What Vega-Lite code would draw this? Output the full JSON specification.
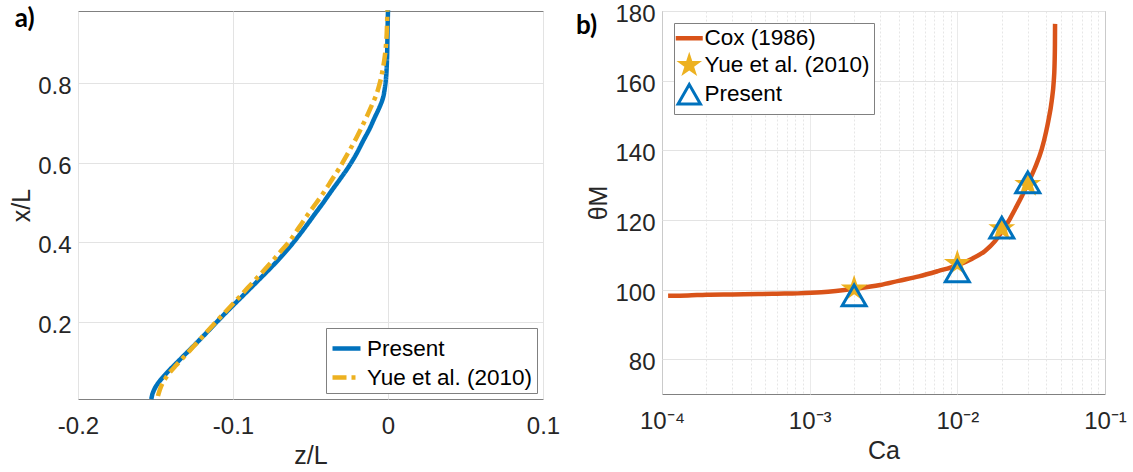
{
  "$schema": "https://vega.github.io/schema/vega-lite/v6.json",
  "background": "white",
  "padding": {"left": 9, "top": 0, "right": 0, "bottom": 0},
  "bounds": "flush",
  "spacing": 119,
  "datasets": {
    "profile": [
      {"series": "Present", "zL": -0.1527, "xL": 0.006},
      {"series": "Present", "zL": -0.1519, "xL": 0.020},
      {"series": "Present", "zL": -0.1502, "xL": 0.035},
      {"series": "Present", "zL": -0.1476, "xL": 0.050},
      {"series": "Present", "zL": -0.1444, "xL": 0.065},
      {"series": "Present", "zL": -0.1408, "xL": 0.080},
      {"series": "Present", "zL": -0.1362, "xL": 0.098},
      {"series": "Present", "zL": -0.1308, "xL": 0.119},
      {"series": "Present", "zL": -0.1244, "xL": 0.144},
      {"series": "Present", "zL": -0.1181, "xL": 0.169},
      {"series": "Present", "zL": -0.1105, "xL": 0.200},
      {"series": "Present", "zL": -0.1025, "xL": 0.232},
      {"series": "Present", "zL": -0.0960, "xL": 0.257},
      {"series": "Present", "zL": -0.0885, "xL": 0.286},
      {"series": "Present", "zL": -0.0808, "xL": 0.316},
      {"series": "Present", "zL": -0.0735, "xL": 0.345},
      {"series": "Present", "zL": -0.0665, "xL": 0.375},
      {"series": "Present", "zL": -0.0602, "xL": 0.404},
      {"series": "Present", "zL": -0.0535, "xL": 0.438},
      {"series": "Present", "zL": -0.0473, "xL": 0.471},
      {"series": "Present", "zL": -0.0418, "xL": 0.500},
      {"series": "Present", "zL": -0.0366, "xL": 0.529},
      {"series": "Present", "zL": -0.0310, "xL": 0.559},
      {"series": "Present", "zL": -0.0258, "xL": 0.588},
      {"series": "Present", "zL": -0.0205, "xL": 0.622},
      {"series": "Present", "zL": -0.0161, "xL": 0.655},
      {"series": "Present", "zL": -0.0120, "xL": 0.685},
      {"series": "Present", "zL": -0.0086, "xL": 0.714},
      {"series": "Present", "zL": -0.0055, "xL": 0.740},
      {"series": "Present", "zL": -0.0032, "xL": 0.764},
      {"series": "Present", "zL": -0.0018, "xL": 0.795},
      {"series": "Present", "zL": -0.0011, "xL": 0.823},
      {"series": "Present", "zL": -0.0006, "xL": 0.865},
      {"series": "Present", "zL": -0.0004, "xL": 0.906},
      {"series": "Present", "zL": -0.0002, "xL": 0.950},
      {"series": "Present", "zL": 0.0000, "xL": 0.984},
      {"series": "Yue et al. (2010)", "zL": -0.1484, "xL": 0.014},
      {"series": "Yue et al. (2010)", "zL": -0.1472, "xL": 0.030},
      {"series": "Yue et al. (2010)", "zL": -0.1456, "xL": 0.045},
      {"series": "Yue et al. (2010)", "zL": -0.1433, "xL": 0.060},
      {"series": "Yue et al. (2010)", "zL": -0.1404, "xL": 0.075},
      {"series": "Yue et al. (2010)", "zL": -0.1370, "xL": 0.090},
      {"series": "Yue et al. (2010)", "zL": -0.1322, "xL": 0.110},
      {"series": "Yue et al. (2010)", "zL": -0.1258, "xL": 0.137},
      {"series": "Yue et al. (2010)", "zL": -0.1193, "xL": 0.165},
      {"series": "Yue et al. (2010)", "zL": -0.1125, "xL": 0.194},
      {"series": "Yue et al. (2010)", "zL": -0.1054, "xL": 0.2235},
      {"series": "Yue et al. (2010)", "zL": -0.0978, "xL": 0.255},
      {"series": "Yue et al. (2010)", "zL": -0.0905, "xL": 0.286},
      {"series": "Yue et al. (2010)", "zL": -0.0833, "xL": 0.316},
      {"series": "Yue et al. (2010)", "zL": -0.0765, "xL": 0.345},
      {"series": "Yue et al. (2010)", "zL": -0.0698, "xL": 0.375},
      {"series": "Yue et al. (2010)", "zL": -0.0634, "xL": 0.404},
      {"series": "Yue et al. (2010)", "zL": -0.0574, "xL": 0.438},
      {"series": "Yue et al. (2010)", "zL": -0.0516, "xL": 0.471},
      {"series": "Yue et al. (2010)", "zL": -0.0462, "xL": 0.500},
      {"series": "Yue et al. (2010)", "zL": -0.0409, "xL": 0.529},
      {"series": "Yue et al. (2010)", "zL": -0.0360, "xL": 0.559},
      {"series": "Yue et al. (2010)", "zL": -0.0312, "xL": 0.588},
      {"series": "Yue et al. (2010)", "zL": -0.0262, "xL": 0.622},
      {"series": "Yue et al. (2010)", "zL": -0.0215, "xL": 0.655},
      {"series": "Yue et al. (2010)", "zL": -0.0176, "xL": 0.685},
      {"series": "Yue et al. (2010)", "zL": -0.0140, "xL": 0.714},
      {"series": "Yue et al. (2010)", "zL": -0.0107, "xL": 0.743},
      {"series": "Yue et al. (2010)", "zL": -0.0075, "xL": 0.772},
      {"series": "Yue et al. (2010)", "zL": -0.0050, "xL": 0.805},
      {"series": "Yue et al. (2010)", "zL": -0.0032, "xL": 0.839},
      {"series": "Yue et al. (2010)", "zL": -0.0020, "xL": 0.870},
      {"series": "Yue et al. (2010)", "zL": -0.0011, "xL": 0.906},
      {"series": "Yue et al. (2010)", "zL": -0.0006, "xL": 0.950},
      {"series": "Yue et al. (2010)", "zL": -0.0004, "xL": 0.984}
    ],
    "cox": [
      {"series": "Cox (1986)", "Ca": 0.00011, "theta": 98.2},
      {"series": "Cox (1986)", "Ca": 0.00015, "theta": 98.3},
      {"series": "Cox (1986)", "Ca": 0.0002, "theta": 98.5},
      {"series": "Cox (1986)", "Ca": 0.0003, "theta": 98.6},
      {"series": "Cox (1986)", "Ca": 0.00045, "theta": 98.7},
      {"series": "Cox (1986)", "Ca": 0.0006, "theta": 98.8},
      {"series": "Cox (1986)", "Ca": 0.00083, "theta": 98.9},
      {"series": "Cox (1986)", "Ca": 0.0012, "theta": 99.2},
      {"series": "Cox (1986)", "Ca": 0.002, "theta": 100.2},
      {"series": "Cox (1986)", "Ca": 0.003, "theta": 101.3},
      {"series": "Cox (1986)", "Ca": 0.004, "theta": 102.5},
      {"series": "Cox (1986)", "Ca": 0.0055, "theta": 103.8},
      {"series": "Cox (1986)", "Ca": 0.0074, "theta": 105.3},
      {"series": "Cox (1986)", "Ca": 0.0099, "theta": 106.9},
      {"series": "Cox (1986)", "Ca": 0.0125, "theta": 108.8},
      {"series": "Cox (1986)", "Ca": 0.0154, "theta": 111.1},
      {"series": "Cox (1986)", "Ca": 0.018, "theta": 113.9},
      {"series": "Cox (1986)", "Ca": 0.020, "theta": 116.6},
      {"series": "Cox (1986)", "Ca": 0.0225, "theta": 120.0},
      {"series": "Cox (1986)", "Ca": 0.0247, "theta": 123.2},
      {"series": "Cox (1986)", "Ca": 0.0275, "theta": 127.0},
      {"series": "Cox (1986)", "Ca": 0.030, "theta": 130.4},
      {"series": "Cox (1986)", "Ca": 0.0335, "theta": 134.9},
      {"series": "Cox (1986)", "Ca": 0.0373, "theta": 140.3},
      {"series": "Cox (1986)", "Ca": 0.040, "theta": 145.5},
      {"series": "Cox (1986)", "Ca": 0.0414, "theta": 148.6},
      {"series": "Cox (1986)", "Ca": 0.0436, "theta": 154.3},
      {"series": "Cox (1986)", "Ca": 0.0450, "theta": 160.0},
      {"series": "Cox (1986)", "Ca": 0.0455, "theta": 164.0},
      {"series": "Cox (1986)", "Ca": 0.0458, "theta": 170.0},
      {"series": "Cox (1986)", "Ca": 0.0459, "theta": 176.3}
    ],
    "yue": [
      {"series": "Yue et al. (2010)", "Ca": 0.002, "theta": 100.2},
      {"series": "Yue et al. (2010)", "Ca": 0.01, "theta": 107.5},
      {"series": "Yue et al. (2010)", "Ca": 0.02, "theta": 117.5},
      {"series": "Yue et al. (2010)", "Ca": 0.03, "theta": 130.2}
    ],
    "present": [
      {"series": "Present", "Ca": 0.002, "theta": 98.3},
      {"series": "Present", "Ca": 0.01, "theta": 105.2},
      {"series": "Present", "Ca": 0.02, "theta": 117.8},
      {"series": "Present", "Ca": 0.03, "theta": 130.8}
    ]
  },
  "config": {
    "font": "Liberation Sans",
    "view": {"stroke": "#808080", "strokeWidth": 1},
    "axis": {
      "labelFont": "Liberation Sans", "labelFontSize": 24, "labelColor": "#262626",
      "titleFont": "Liberation Sans", "titleFontSize": 25, "titleFontWeight": "normal", "titleColor": "#262626",
      "domain": false, "ticks": false, "gridColor": "#e3e3e3", "gridWidth": 1,
      "labelFlush": false, "labelOverlap": false
    },
    "axisX": {"labelPadding": 15, "titlePadding": 5},
    "axisY": {"labelPadding": 7, "titlePadding": 3, "labelOffset": 3.5},
    "legend": {
      "labelFont": "Liberation Sans", "labelFontSize": 22.5, "labelColor": "#000000", "labelLimit": 0,
      "strokeColor": "#808080", "fillColor": "white", "padding": 4,
      "symbolSize": 600, "symbolStrokeWidth": 4.5, "rowPadding": 1, "labelOffset": 4,
      "title": null
    },
    "title": {"font": "Lato", "fontSize": 26, "fontWeight": "bold", "color": "#000000", "anchor": "start", "frame": "bounds", "offset": 0, "baseline": "alphabetic"}
  },
  "resolve": {"scale": {"color": "independent"}, "legend": {"color": "independent"}},
  "hconcat": [
    {
      "width": 465,
      "height": 388,
      "title": {"text": "a)", "dy": 35, "dx": 5},
      "data": {"name": "profile"},
      "mark": {"type": "line", "strokeWidth": 4.5, "interpolate": "catmull-rom"},
      "encoding": {
        "x": {"field": "zL", "type": "quantitative",
          "scale": {"domain": [-0.2, 0.1], "nice": false, "zero": false},
          "axis": {"title": "z/L", "values": [-0.2, -0.1, 0, 0.1], "labelExpr": "'' + datum.value"}},
        "y": {"field": "xL", "type": "quantitative",
          "scale": {"domain": [0.0065, 0.982], "nice": false, "zero": false},
          "axis": {"title": "x/L", "values": [0.2, 0.4, 0.6, 0.8], "labelExpr": "'' + datum.value"}},
        "order": {"field": "xL", "type": "quantitative"},
        "color": {"field": "series", "type": "nominal",
          "scale": {"domain": ["Present", "Yue et al. (2010)"], "range": ["#0072BD", "#EDB120"]},
          "legend": {"orient": "bottom-right", "offset": 6, "symbolType": "stroke", "symbolSize": 784,
            "encode": {"symbols": {"update": {"strokeDash": {"signal": "datum.value === 'Present' ? [1, 0] : [14, 5, 4, 5]"}, "strokeWidth": {"value": 4.5}}}}}},
        "strokeDash": {"field": "series", "type": "nominal",
          "scale": {"domain": ["Present", "Yue et al. (2010)"], "range": [[1, 0], [13, 5, 4, 5]]},
          "legend": null}
      }
    },
    {
      "width": 443,
      "height": 383,
      "title": {"text": "b)", "dy": 40, "dx": -11},
      "layer": [
        {
          "data": {"name": "cox"},
          "mark": {"type": "line", "strokeWidth": 4.5, "interpolate": "monotone"},
          "encoding": {
            "x": {"field": "Ca", "type": "quantitative",
              "scale": {"type": "log", "domain": [0.0001, 0.1], "nice": false},
              "axis": {"title": "Ca",
                "values": [0.0001, 0.0002, 0.0003, 0.0004, 0.0005, 0.0006, 0.0007, 0.0008, 0.0009, 0.001, 0.002, 0.003, 0.004, 0.005, 0.006, 0.007, 0.008, 0.009, 0.01, 0.02, 0.03, 0.04, 0.05, 0.06, 0.07, 0.08, 0.09, 0.1],
                "labelExpr": "datum.value == 0.0001 ? '10⁻⁴' : datum.value == 0.001 ? '10⁻³' : datum.value == 0.01 ? '10⁻²' : datum.value == 0.1 ? '10⁻¹' : ''",
                "gridDash": {"condition": {"test": "datum.value == 0.0001 || datum.value == 0.001 || datum.value == 0.01 || datum.value == 0.1", "value": [1, 0]}, "value": [2, 2]},
                "gridColor": {"condition": {"test": "datum.value == 0.0001 || datum.value == 0.001 || datum.value == 0.01 || datum.value == 0.1", "value": "#e3e3e3"}, "value": "#e6e6e6"}}},
            "y": {"field": "theta", "type": "quantitative",
              "scale": {"domain": [70, 180], "nice": false, "zero": false},
              "axis": {"title": "θM", "values": [80, 100, 120, 140, 160, 180]}},
            "color": {"field": "series", "type": "nominal",
              "scale": {"domain": ["Cox (1986)", "Yue et al. (2010)", "Present"], "range": ["#D95319", "#EDB120", "#0072BD"]},
              "legend": {"orient": "top-left", "offset": 12,
                "encode": {"symbols": {"update": {
                  "shape": {"signal": "datum.value === 'Cox (1986)' ? 'stroke' : datum.value === 'Present' ? 'triangle-up' : 'M0,-1L0.2245,-0.309L0.951,-0.309L0.363,0.118L0.588,0.809L0,0.382L-0.588,0.809L-0.363,0.118L-0.951,-0.309L-0.2245,-0.309Z'"},
                  "size": {"signal": "datum.value === 'Cox (1986)' ? 729 : datum.value === 'Present' ? 500 : 720"},
                  "fill": {"signal": "datum.value === 'Yue et al. (2010)' ? '#EDB120' : 'transparent'"},
                  "fillOpacity": {"signal": "datum.value === 'Yue et al. (2010)' ? 1 : 0"},
                  "stroke": {"signal": "datum.value === 'Cox (1986)' ? '#D95319' : datum.value === 'Present' ? '#0072BD' : 'transparent'"},
                  "strokeOpacity": {"signal": "datum.value === 'Yue et al. (2010)' ? 0 : 1"},
                  "strokeWidth": {"signal": "datum.value === 'Cox (1986)' ? 4.5 : 3"},
                  "opacity": {"value": 1}
                }}}}}
          }
        },
        {
          "data": {"name": "yue"},
          "mark": {"type": "point", "filled": true, "opacity": 1, "size": 800, "strokeWidth": 0,
            "shape": "M0,-1L0.2245,-0.309L0.951,-0.309L0.363,0.118L0.588,0.809L0,0.382L-0.588,0.809L-0.363,0.118L-0.951,-0.309L-0.2245,-0.309Z"},
          "encoding": {
            "x": {"field": "Ca", "type": "quantitative"},
            "y": {"field": "theta", "type": "quantitative"},
            "color": {"field": "series", "type": "nominal"}
          }
        },
        {
          "data": {"name": "present"},
          "mark": {"type": "point", "filled": false, "opacity": 1, "size": 576, "strokeWidth": 3, "shape": "triangle-up"},
          "encoding": {
            "x": {"field": "Ca", "type": "quantitative"},
            "y": {"field": "theta", "type": "quantitative"},
            "color": {"field": "series", "type": "nominal"}
          }
        }
      ]
    }
  ]
}
